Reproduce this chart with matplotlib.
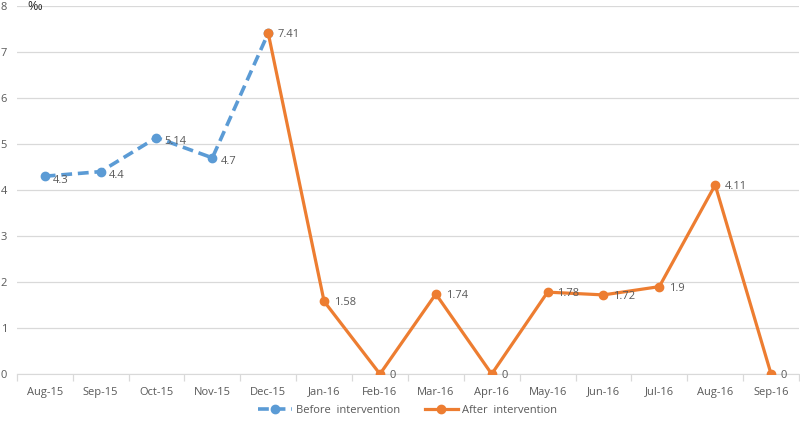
import matplotlib
matplotlib.use("Agg")
import matplotlib.pyplot as plt

categories = ["Aug-15", "Sep-15", "Oct-15", "Nov-15", "Dec-15", "Jan-16", "Feb-16",
              "Mar-16", "Apr-16", "May-16", "Jun-16", "Jul-16", "Aug-16", "Sep-16"]
before_idx = [0, 1, 2, 3, 4]
before_vals = [4.3, 4.4, 5.14, 4.7, 7.41]
after_idx = [4, 5, 6, 7, 8, 9, 10, 11, 12, 13]
after_vals = [7.41, 1.58, 0, 1.74, 0, 1.78, 1.72, 1.9, 4.11, 0]
before_labels = ["4.3", "4.4", "5.14", "4.7"]
after_labels = ["7.41", "1.58", "0", "1.74", "0", "1.78", "1.72", "1.9", "4.11", "0"]

plt.rcParams['font.family'] = ['Open Sans', 'DejaVu Sans']
blue = "#5B9BD5"
orange = "#ED7D31"
gray = "#595959"

fig = plt.figure(figsize=(8, 4.22), dpi=100)
ax = fig.add_axes([0.021, 0.1137, 0.97775, 0.872])

ax.plot(before_idx, before_vals, color=blue, lw=2.6, ls=(0, (3, 1.6)), marker="o", ms=6,
        label="Before  intervention", zorder=3)
ax.plot(after_idx, after_vals, color=orange, lw=2.3, marker="o", ms=6,
        label="After  intervention", zorder=3)

for i, v, t in zip(before_idx[:4], before_vals[:4], before_labels):
    ax.annotate(t, (i, v), xytext=(6, -3), textcoords="offset points", fontsize=8,
                color=gray, va="center", ha="left", zorder=4)
for i, v, t in zip(after_idx, after_vals, after_labels):
    ax.annotate(t, (i, v), xytext=(7, -1), textcoords="offset points", fontsize=8,
                color=gray, va="center", ha="left", zorder=4)

ax.set_xlim(-0.5, len(categories) - 0.5)
ax.set_ylim(0, 8)
ax.set_yticks(range(0, 9))
ax.set_xticks(range(len(categories)))
ax.set_xticklabels(categories)
ax.grid(axis="y", color="#D9D9D9", lw=0.9)
ax.set_axisbelow(True)
for s in ["top", "right", "left"]:
    ax.spines[s].set_visible(False)
ax.spines["bottom"].set_color("#D9D9D9")
ax.tick_params(axis="y", length=0, labelsize=8, labelcolor=gray, pad=7)
ax.tick_params(axis="x", length=0, labelsize=8, labelcolor=gray, pad=9)
ax.set_xticks([i - 0.5 for i in range(len(categories) + 1)], minor=True)
ax.tick_params(axis="x", which="minor", length=5, color="#D9D9D9", width=0.9)

fig.text(0.034, 0.985, "‰", fontsize=9, color="#262626", va="center", ha="left")

leg = ax.legend(loc="center", bbox_to_anchor=(0.5, -0.1), ncol=2, frameon=False,
                fontsize=8, labelcolor=gray, handlelength=3, handletextpad=0.4,
                columnspacing=2.2, borderpad=0)
fig.savefig("out.png", dpi=100)
